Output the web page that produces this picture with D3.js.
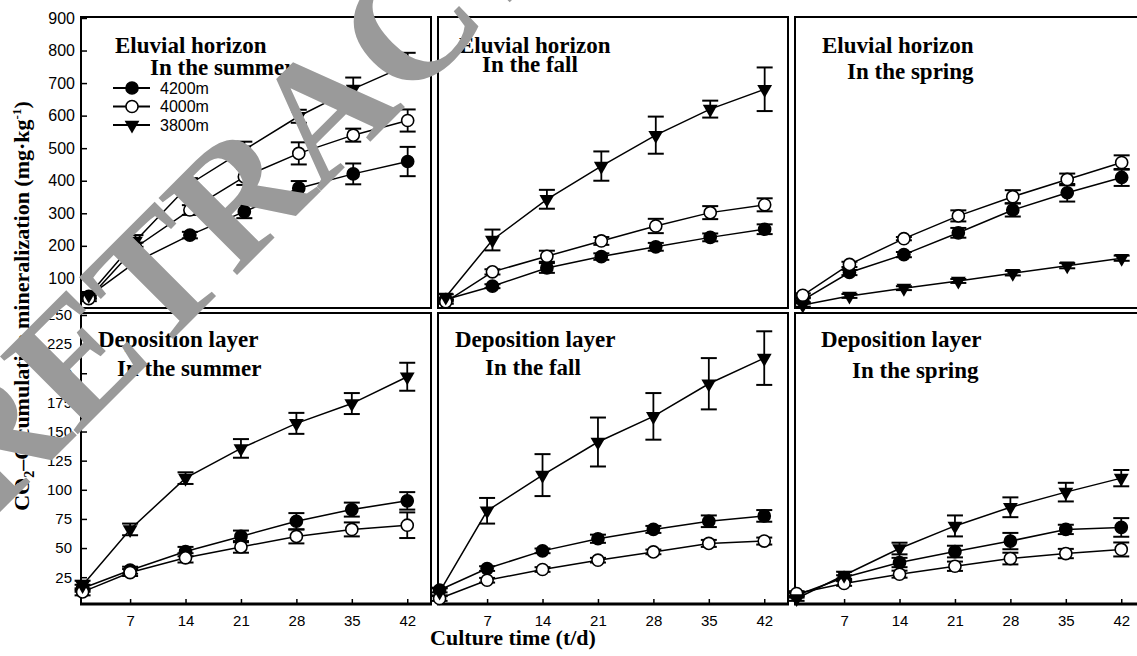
<!DOCTYPE html>
<html>
<head>
<meta charset="utf-8">
<script src="https://cdn.jsdelivr.net/npm/d3@7"></script>
<style>
  body { margin: 0; background: #fff; }
  svg { display: block; }
</style>
</head>
<body>
<svg id="chart" width="1137" height="656"></svg>
<script>
// ---- data -------------------------------------------------------------
const days = [1, 7, 14, 21, 28, 35, 42];
const sites = ["4200m", "4000m", "3800m"];
const xTicks = [7, 14, 21, 28, 35, 42];
const yTicksEluvial = [100, 200, 300, 400, 500, 600, 700, 800, 900];
const yTicksDeposition = [25, 50, 75, 100, 125, 150, 175, 200, 225, 250];

// Eluvial horizon, summer
const eluvSummer4200 = [45, 150, 233, 305, 377, 421, 459];
const eluvSummer4200Err = [8, 12, 10, 20, 22, 32, 45];
const eluvSummer4000 = [38, 195, 310, 412, 484, 540, 585];
const eluvSummer4000Err = [8, 15, 15, 25, 34, 20, 34];
const eluvSummer3800 = [48, 215, 390, 495, 598, 682, 756];
const eluvSummer3800Err = [8, 18, 18, 25, 20, 35, 37];

// Eluvial horizon, fall
const eluvFall4200 = [35, 76, 132, 167, 197, 226, 251];
const eluvFall4200Err = [6, 6, 15, 10, 12, 12, 15];
const eluvFall4000 = [28, 120, 168, 215, 261, 302, 326];
const eluvFall4000Err = [6, 8, 17, 12, 22, 20, 20];
const eluvFall3800 = [43, 218, 343, 445, 540, 620, 681];
const eluvFall3800Err = [8, 32, 29, 45, 57, 26, 67];

// Eluvial horizon, spring
const eluvSpring4200 = [33, 118, 173, 240, 310, 363, 410];
const eluvSpring4200Err = [6, 8, 8, 15, 20, 27, 26];
const eluvSpring4000 = [48, 143, 222, 292, 351, 404, 456];
const eluvSpring4000Err = [6, 8, 5, 17, 20, 18, 22];
const eluvSpring3800 = [18, 46, 70, 92, 116, 139, 162];
const eluvSpring3800Err = [5, 6, 6, 6, 7, 8, 8];

// Deposition layer, summer
const depoSummer4200 = [15.5, 31, 47, 60, 73, 83, 90.5];
const depoSummer4200Err = [3, 3, 4, 5, 7, 6, 7.5];
const depoSummer4000 = [12.4, 29, 41.6, 51, 60, 66, 69.6];
const depoSummer4000Err = [3, 3, 4, 5, 6, 6, 11];
const depoSummer3800 = [18, 66, 110, 135.5, 157, 174, 197];
const depoSummer3800Err = [4, 5, 5, 8, 9, 9, 12];

// Deposition layer, fall
const depoFall4200 = [14, 32.4, 47.6, 58, 66, 73, 77.6];
const depoFall4200Err = [2, 2, 2, 3.5, 3, 5, 5];
const depoFall4000 = [6.7, 22.4, 31.6, 39.6, 46.7, 54, 56];
const depoFall4000Err = [2, 2, 2, 2, 2, 3, 3];
const depoFall3800 = [12.4, 82, 112.6, 141, 163, 191, 213];
const depoFall3800Err = [3, 11, 18, 21, 20, 22, 23];

// Deposition layer, spring
const depoSpring4200 = [9.5, 24.7, 37.6, 47, 56, 66, 67.7];
const depoSpring4200Err = [2, 2, 4, 5, 7, 4, 8];
const depoSpring4000 = [11, 19.6, 27.6, 34.4, 41, 45.3, 48.8];
const depoSpring4000Err = [2, 2, 3, 4, 5, 4, 6];
const depoSpring3800 = [6.7, 26.7, 49.6, 69, 85, 98, 110];
const depoSpring3800Err = [2, 3, 5, 9, 8.5, 8, 7];

// ---- layout -----------------------------------------------------------
const svg = d3.select("#chart");
const PW = 350, PH = 291;
const colX = [81, 438, 795];
const rowY = [17, 313];
const SANS = "'Liberation Sans', Arial, sans-serif";
const SERIF = "'Liberation Serif', 'Times New Roman', serif";

const panels = [
  { col: 0, row: 0, title: ["Eluvial horizon", "In the summer"], tpos: [[34, 36], [69, 58]],
    series: [[eluvSummer4200, eluvSummer4200Err], [eluvSummer4000, eluvSummer4000Err], [eluvSummer3800, eluvSummer3800Err]] },
  { col: 1, row: 0, title: ["Eluvial horizon", "In the fall"], tpos: [[21, 36], [44, 55]],
    series: [[eluvFall4200, eluvFall4200Err], [eluvFall4000, eluvFall4000Err], [eluvFall3800, eluvFall3800Err]] },
  { col: 2, row: 0, title: ["Eluvial horizon", "In the spring"], tpos: [[27, 36], [52, 62]],
    series: [[eluvSpring4200, eluvSpring4200Err], [eluvSpring4000, eluvSpring4000Err], [eluvSpring3800, eluvSpring3800Err]] },
  { col: 0, row: 1, title: ["Deposition layer", "In the summer"], tpos: [[17, 34], [36, 63]],
    series: [[depoSummer4200, depoSummer4200Err], [depoSummer4000, depoSummer4000Err], [depoSummer3800, depoSummer3800Err]] },
  { col: 1, row: 1, title: ["Deposition layer", "In the fall"], tpos: [[17, 34], [47, 62]],
    series: [[depoFall4200, depoFall4200Err], [depoFall4000, depoFall4000Err], [depoFall3800, depoFall3800Err]] },
  { col: 2, row: 1, title: ["Deposition layer", "In the spring"], tpos: [[26, 34], [57, 65]],
    series: [[depoSpring4200, depoSpring4200Err], [depoSpring4000, depoSpring4000Err], [depoSpring3800, depoSpring3800Err]] }
];

// row-specific scales
const xDomains = [[0, 45], [0.8, 45]];
const yDomains = [[9, 903], [2, 251.7]];
const yTickSets = [yTicksEluvial, yTicksDeposition];

const triangleDown = d3.symbol().type(d3.symbolTriangle).size(95);
const circleSym = d3.symbol().type(d3.symbolCircle).size(115);

function drawMarker(sel, siteIndex) {
  if (siteIndex === 2) {
    sel.append("path").attr("d", triangleDown).attr("transform", "rotate(180)")
      .attr("fill", "#000");
  } else {
    sel.append("path").attr("d", circleSym)
      .attr("fill", siteIndex === 0 ? "#000" : "#fff")
      .attr("stroke", "#000").attr("stroke-width", 1.6);
  }
}

panels.forEach(p => {
  const g = svg.append("g").attr("transform", `translate(${colX[p.col]},${rowY[p.row]})`);
  const x = d3.scaleLinear().domain(xDomains[p.row]).range([0, PW]);
  const y = d3.scaleLinear().domain(yDomains[p.row]).range([PH, 0]);

  // y axis only on the first column
  if (p.col === 0) {
    const ya = g.append("g").call(
      d3.axisLeft(y).tickValues(yTickSets[p.row]).tickSizeInner(-6).tickSizeOuter(0)
        .tickPadding(p.row === 0 ? 6 : 9));
    ya.select(".domain").remove();
    ya.selectAll("line").attr("stroke", "#000").attr("stroke-width", 1.5);
    ya.selectAll("text").attr("font-family", SANS).attr("font-size", p.row === 0 ? 16 : 15)
      .attr("fill", "#000");
  }
  // x axis only on the bottom row
  if (p.row === 1) {
    const xa = g.append("g").attr("transform", `translate(0,${PH})`).call(
      d3.axisBottom(x).tickValues(xTicks).tickSizeInner(-5).tickSizeOuter(0).tickPadding(11));
    xa.select(".domain").remove();
    xa.selectAll("line").attr("stroke", "#000").attr("stroke-width", 1.5);
    xa.selectAll("text").attr("font-family", SANS).attr("font-size", 15).attr("fill", "#000");
  }

  // frame
  g.append("rect").attr("x", 0).attr("y", 0).attr("width", PW).attr("height", PH)
    .attr("fill", "none").attr("stroke", "#000").attr("stroke-width", 2);
  if (p.row === 1) {
    g.append("line").attr("x1", -1).attr("x2", PW + 1).attr("y1", PH).attr("y2", PH)
      .attr("stroke", "#000").attr("stroke-width", 3);
  }

  // panel title
  p.title.forEach((t, i) => {
    g.append("text").attr("x", p.tpos[i][0]).attr("y", p.tpos[i][1])
      .attr("font-family", SERIF).attr("font-weight", "bold").attr("font-size", 23)
      .attr("fill", "#000").text(t);
  });

  const line = d3.line().x((d, i) => x(days[i])).y(d => y(d));

  p.series.forEach(([vals, errs]) => {
    const sg = g.append("g");
    // error bars
    vals.forEach((v, i) => {
      const cx = x(days[i]);
      const y1 = y(v - errs[i]), y2 = y(v + errs[i]);
      sg.append("line").attr("x1", cx).attr("x2", cx).attr("y1", y1).attr("y2", y2)
        .attr("stroke", "#000").attr("stroke-width", 1.8);
      [y1, y2].forEach(yy => sg.append("line").attr("x1", cx - 8).attr("x2", cx + 8)
        .attr("y1", yy).attr("y2", yy).attr("stroke", "#000").attr("stroke-width", 2));
    });
    sg.append("path").attr("d", line(vals)).attr("fill", "none")
      .attr("stroke", "#000").attr("stroke-width", 1.5);
  });
  p.series.forEach(([vals], si) => {
    vals.forEach((v, i) => {
      const m = g.append("g").attr("transform", `translate(${x(days[i])},${y(v)})`);
      drawMarker(m, si);
    });
  });

  // legend in the first panel
  if (p.col === 0 && p.row === 0) {
    const lg = g.append("g").attr("transform", "translate(32,71)");
    sites.forEach((s, si) => {
      const row = lg.append("g").attr("transform", `translate(0,${si * 18.5})`);
      row.append("line").attr("x1", 0).attr("x2", 37).attr("y1", 0).attr("y2", 0)
        .attr("stroke", "#000").attr("stroke-width", 1.8);
      const m = row.append("g").attr("transform", "translate(19,0)");
      drawMarker(m, si);
      row.append("text").attr("x", 47).attr("y", 0).attr("dy", "0.35em")
        .attr("font-family", SANS).attr("font-size", 16).attr("fill", "#000").text(s);
    });
  }
});

// axis titles
const yl = svg.append("text")
  .attr("transform", "translate(29,306) rotate(-90)")
  .attr("text-anchor", "middle")
  .attr("font-family", SERIF).attr("font-weight", "bold").attr("font-size", 22)
  .attr("fill", "#000");
yl.append("tspan").text("CO");
yl.append("tspan").attr("font-size", 14).attr("dy", 5).text("2");
yl.append("tspan").attr("dy", -5).text("\u2013C cumulative mineralization (mg\u00b7kg");
yl.append("tspan").attr("font-size", 13).attr("dy", -8).text("-1");
yl.append("tspan").attr("dy", 8).text(")");

svg.append("text").attr("x", 513).attr("y", 645).attr("text-anchor", "middle")
  .attr("font-family", SERIF).attr("font-weight", "bold").attr("font-size", 22)
  .attr("fill", "#000").text("Culture time (t/d)");

// retraction stamp across the figure
svg.append("text")
  .attr("transform", "translate(-10,522) rotate(-45)")
  .attr("font-family", SERIF).attr("font-weight", "bold").attr("font-size", 168)
  .attr("fill", "#9a9a9a").text("RETRACTED");
</script>
</body>
</html>
